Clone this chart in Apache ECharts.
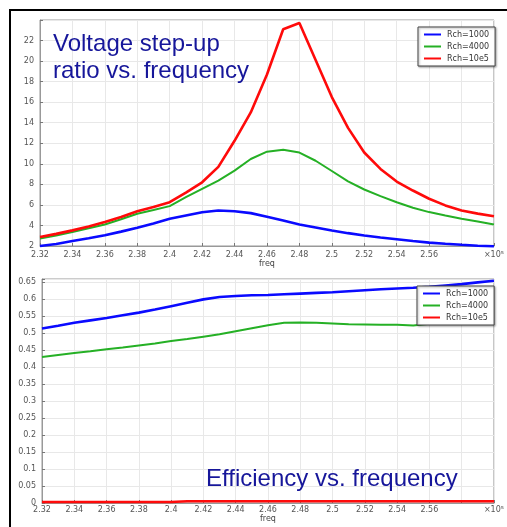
<!DOCTYPE html>
<html>
<head>
<meta charset="utf-8">
<script src="https://cdn.jsdelivr.net/npm/echarts@6/dist/echarts.min.js"></script>
<style>
  html, body { margin: 0; padding: 0; background: #fff; }
  #chart { width: 507px; height: 527px; }
</style>
</head>
<body>
<div id="chart"></div>
<script>
// frequency samples (x 10^5)
const freq = [2.32, 2.33, 2.34, 2.35, 2.36, 2.37, 2.38, 2.39, 2.40, 2.41, 2.42, 2.43, 2.44, 2.45,
  2.46, 2.47, 2.48, 2.49, 2.50, 2.51, 2.52, 2.53, 2.54, 2.55, 2.56, 2.57, 2.58, 2.59, 2.60];

const seriesNames = ["Rch=1000", "Rch=4000", "Rch=10e5"];
const seriesColors = ["#0a0aff", "#25b025", "#ff0a0a"];

// voltage step-up ratio
const ratio1000 = [2.0, 2.2, 2.48, 2.75, 3.04, 3.4, 3.78, 4.2, 4.65, 4.97, 5.29, 5.46, 5.39, 5.2,
  4.85, 4.49, 4.1, 3.8, 3.5, 3.25, 3.02, 2.82, 2.65, 2.48, 2.33, 2.22, 2.12, 2.03, 1.98];
const ratio4000 = [2.72, 3.03, 3.36, 3.72, 4.1, 4.6, 5.14, 5.5, 5.88, 6.75, 7.56, 8.37, 9.34, 10.47,
  11.18, 11.37, 11.1, 10.3, 9.3, 8.3, 7.5, 6.85, 6.26, 5.72, 5.3, 4.97, 4.65, 4.38, 4.1];
const ratio10e5 = [2.87, 3.18, 3.52, 3.9, 4.33, 4.82, 5.39, 5.8, 6.26, 7.2, 8.2, 9.7, 12.24, 15.0,
  18.7, 23.1, 23.7, 20.1, 16.5, 13.5, 11.1, 9.5, 8.27, 7.4, 6.6, 5.95, 5.45, 5.15, 4.9];

// efficiency
const eff1000 = [0.514, 0.522, 0.531, 0.538, 0.545, 0.553, 0.561, 0.57, 0.58, 0.59, 0.6, 0.607, 0.61, 0.612,
  0.613, 0.615, 0.617, 0.619, 0.621, 0.624, 0.627, 0.63, 0.632, 0.634, 0.637, 0.641, 0.645, 0.65, 0.655];
const eff4000 = [0.43, 0.436, 0.442, 0.447, 0.453, 0.458, 0.464, 0.47, 0.477, 0.483, 0.49, 0.497, 0.506, 0.515,
  0.524, 0.531, 0.532, 0.531, 0.529, 0.527, 0.526, 0.525, 0.525, 0.523, 0.528, 0.534, 0.54, 0.545, 0.548];
const eff10e5 = [0.003, 0.003, 0.003, 0.003, 0.003, 0.003, 0.003, 0.003, 0.003, 0.005, 0.005, 0.005, 0.005, 0.005,
  0.005, 0.005, 0.005, 0.005, 0.005, 0.005, 0.005, 0.005, 0.005, 0.005, 0.005, 0.005, 0.005, 0.005, 0.005];

const ratioData = [ratio1000, ratio4000, ratio10e5];
const effData = [eff1000, eff4000, eff10e5];

const pair = (arr) => freq.map((f, i) => [f, arr[i]]);

const tickFont = { fontSize: 8, color: "#555", fontFamily: "DejaVu Sans" };

function xAxisCfg(gridIndex, margin, nameGap) {
  return {
    type: "value",
    gridIndex: gridIndex,
    min: 2.32,
    max: 2.6,
    interval: 0.02,
    name: "freq",
    nameLocation: "middle",
    nameGap: nameGap,
    nameTextStyle: { fontSize: 8, color: "#444", fontFamily: "DejaVu Sans", verticalAlign: "top" },
    axisLine: { lineStyle: { color: "#999" } },
    axisTick: { inside: true, length: 3, lineStyle: { color: "#777" } },
    axisLabel: Object.assign({}, tickFont, {
      margin: margin,
      showMinLabel: true,
      showMaxLabel: true,
      formatter: function (v) {
        if (v > 2.59) return "×10⁵";
        if (v > 2.57) return "";
        return String(+v.toFixed(2));
      }
    }),
    splitLine: { lineStyle: { color: "#e8e8e8" } }
  };
}

const legendBase = {
  orient: "vertical",
  icon: "rect",
  itemWidth: 17,
  itemHeight: 2,
  itemGap: 3,
  padding: [3, 6, 3, 6],
  backgroundColor: "#fff",
  borderColor: "#444",
  borderWidth: 1,
  shadowColor: "rgba(0,0,0,0.35)",
  shadowBlur: 2,
  shadowOffsetX: 1,
  shadowOffsetY: 1,
  textStyle: { fontSize: 8, color: "#333", fontFamily: "DejaVu Sans", padding: [0, 0, 0, 1], lineHeight: 9 },
  data: seriesNames
};

const series = [];
seriesNames.forEach((name, k) => {
  series.push({
    name: name,
    type: "line",
    xAxisIndex: 0,
    yAxisIndex: 0,
    showSymbol: false,
    clip: false,
    data: pair(ratioData[k]),
    lineStyle: { color: seriesColors[k], width: k === 1 ? 2 : 2.6 },
    itemStyle: { color: seriesColors[k] }
  });
});
seriesNames.forEach((name, k) => {
  series.push({
    name: name,
    type: "line",
    xAxisIndex: 1,
    yAxisIndex: 1,
    showSymbol: false,
    clip: false,
    data: pair(effData[k]),
    lineStyle: { color: seriesColors[k], width: k === 1 ? 2 : 2.6 },
    itemStyle: { color: seriesColors[k] }
  });
});

const titleStyle = { fontSize: 24, fontWeight: "normal", color: "#16169a", fontFamily: "Liberation Sans", lineHeight: 27 };

const option = {
  backgroundColor: "#fff",
  animation: false,
  title: [
    { text: "Voltage step-up\nratio vs. frequency", left: 53, top: 31, padding: 0, textStyle: titleStyle },
    { text: "Efficiency vs. frequency", left: 206, top: 466, padding: 0, textStyle: titleStyle }
  ],
  legend: [
    Object.assign({}, legendBase, { left: 418, top: 27 }),
    Object.assign({}, legendBase, { left: 417, top: 286 })
  ],
  grid: [
    { left: 40, right: 8, top: 20, height: 226, show: true, borderColor: "#999", borderWidth: 1, backgroundColor: "#fff" },
    { left: 42, right: 12, top: 279, height: 224, show: true, borderColor: "#999", borderWidth: 1, backgroundColor: "#fff" }
  ],
  xAxis: [xAxisCfg(0, 5, 11), xAxisCfg(1, 3, 10)],
  yAxis: [
    {
      type: "value",
      gridIndex: 0,
      min: 2,
      max: 24,
      interval: 2,
      axisLine: { show: true, lineStyle: { color: "#999" } },
      axisTick: { show: true, inside: true, length: 3, lineStyle: { color: "#777" } },
      axisLabel: Object.assign({}, tickFont, {
        margin: 6,
        formatter: function (v) { return v >= 23 ? "" : String(v); }
      }),
      splitLine: { lineStyle: { color: "#e8e8e8" } }
    },
    {
      type: "value",
      gridIndex: 1,
      min: 0,
      max: 0.66,
      interval: 0.05,
      axisLine: { show: true, lineStyle: { color: "#999" } },
      axisTick: { show: true, inside: true, length: 3, lineStyle: { color: "#777" } },
      axisLabel: Object.assign({}, tickFont, {
        margin: 6,
        formatter: function (v) {
          const n = v / 0.05;
          if (Math.abs(n - Math.round(n)) > 1e-6) return "";
          return String(+v.toFixed(2));
        }
      }),
      splitLine: { lineStyle: { color: "#e8e8e8" } }
    }
  ],
  graphic: [
    { type: "rect", shape: { x: 9, y: 9, width: 2, height: 518 }, style: { fill: "#000" }, z: 100 },
    { type: "rect", shape: { x: 9, y: 9, width: 498, height: 2 }, style: { fill: "#000" }, z: 100 }
  ],
  series: series
};

const myChart = echarts.init(document.getElementById("chart"), null, { renderer: "canvas" });
myChart.setOption(option);
</script>
</body>
</html>
